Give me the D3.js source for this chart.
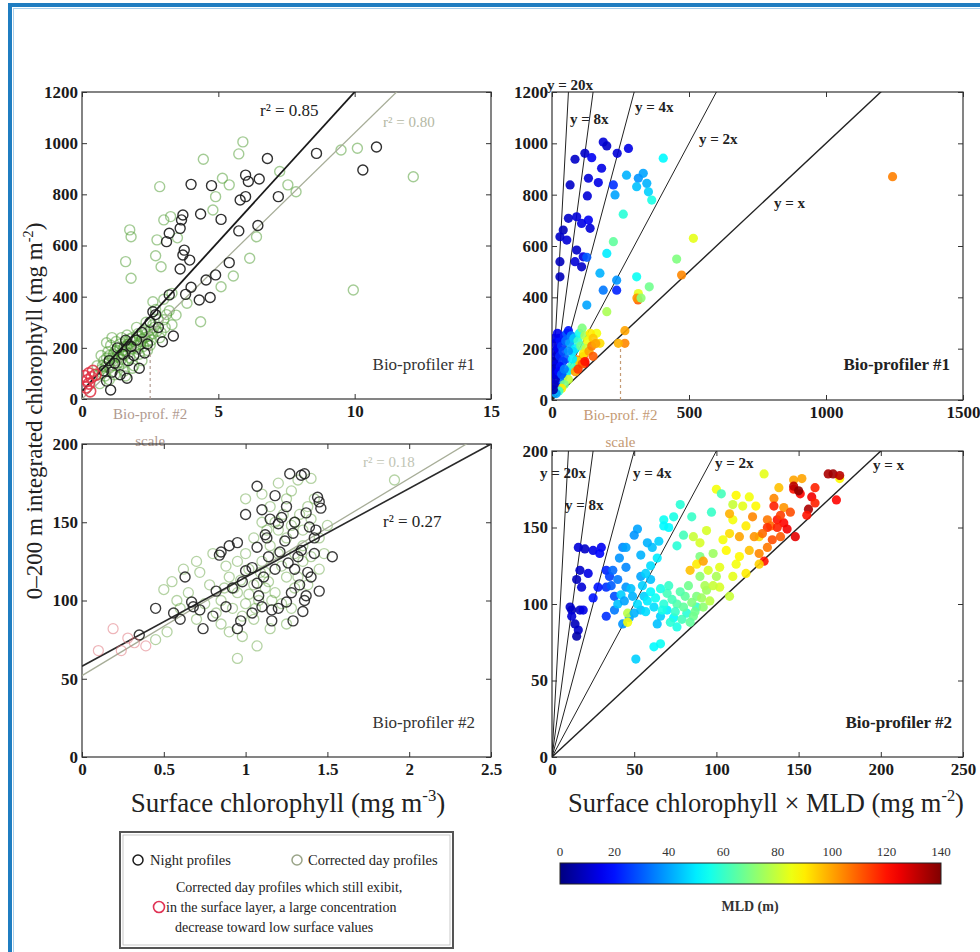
<!DOCTYPE html>
<html>
<head>
<meta charset="utf-8">
<script src="https://cdn.jsdelivr.net/npm/d3@7/dist/d3.min.js"></script>
<style>
  body { margin: 0; background: #fff; }
  svg text { font-family: "Liberation Serif", "DejaVu Serif", serif; }
</style>
</head>
<body>
<svg id="chart" width="980" height="952"></svg>
<script>
// ---- data ----
// Bio-profiler #1 : [surface chl, 0-200 m integrated chl]
var nightTop = [[10.8,985],[10.3,895],[8.6,960],[6.8,940],[6.0,875],[6.1,850],[6.5,860],[5.8,778],[6.0,791],
  [4.0,839],[4.75,834],[3.7,719],[4.35,723],[5.1,702],[3.6,667],[3.2,648],[3.1,615],[3.65,700],[6.45,678],
  [5.75,657],[3.75,582],[3.7,563],[3.95,543],[3.6,508],[5.4,533],[4.9,485],[4.55,465],[4.7,397],[4.3,387],
  [4.0,437],[3.8,409],[3.2,407],[2.6,341],[3.35,246],[2.95,224],[1.65,81],[1.05,35],[7.2,791],[2.5,300],
  [2.7,330],[2.2,260],[2.0,230],[1.8,205],[1.5,175],[1.2,140],[1.0,150],[1.4,95],[2.1,120],[0.9,70],
  [1.3,200],[2.4,215],[1.7,150],[2.8,280],[1.1,105],[2.3,180],[1.6,230],[0.8,110],[1.9,170]];
var dayTop = [[5.9,1005],[5.75,958],[4.45,937],[2.85,830],[5.15,863],[5.4,837],[4.9,791],[4.8,739],[3.25,713],
  [3.0,700],[1.8,634],[1.75,661],[1.6,537],[1.8,472],[2.75,622],[2.9,517],[3.3,413],[4.35,302],[6.15,550],
  [6.4,634],[5.55,481],[5.1,439],[7.25,889],[7.55,837],[7.85,810],[9.5,973],[10.1,980],[12.15,869],[9.95,426],
  [3.85,374],[3.45,328],[3.0,390],[2.6,380],[3.5,630],[2.7,560],
  [0.6,95],[0.75,130],[0.9,160],[1.0,120],[1.15,175],[1.25,150],[1.4,200],[1.5,140],[1.6,185],[1.7,215],
  [1.85,240],[1.95,200],[2.05,255],[2.15,225],[2.3,270],[2.45,245],[2.6,290],[2.75,265],[0.7,170],[0.85,90],
  [1.05,210],[1.2,95],[1.35,125],[1.45,240],[1.55,110],[1.75,160],[1.9,130],[2.1,175],[2.25,205],[2.4,190],
  [2.55,230],[2.8,310],[3.05,280],[3.2,345],[0.95,185],[1.1,240],[1.3,170],[1.65,250],[2.0,280],[2.2,150],
  [0.65,60],[0.8,150],[1.0,75],[1.6,90],[1.85,120],[2.35,300],[2.9,260],[1.25,225],[1.55,205],[0.55,130],
  [0.9,220],[1.45,175],[1.95,230],[2.5,210],[2.7,350],[3.1,330],[2.3,240],
  [0.7,115],[0.95,140],[1.1,160],[1.2,185],[1.35,165],[1.5,190],[1.65,205],[1.8,195],[1.9,225],[2.0,210],
  [2.1,245],[2.2,235],[2.35,255],[2.5,270],[2.65,280],[0.85,125],[1.0,170],[1.3,140],[1.45,155],[1.55,170],
  [1.7,180],[2.05,195],[2.15,215],[2.4,225],[1.15,130],[0.75,100],[1.6,225],[1.75,235],[1.25,190],[1.4,215],
  [2.6,255],[2.85,240],[3.3,290],[3.0,310]];
var redTop = [[0.25,100],[0.3,30],[0.2,73],[0.4,110],[0.25,60],[0.35,85],[0.15,45],[0.5,95],[0.1,90]];

// Bio-profiler #2
var nightBottom = [[1.27,181],[1.34,180],[1.36,181],[1.07,173],[1.18,167],[1.44,166],[1.45,163],[1.46,159],
  [1.25,160],[1.1,158],[1.0,155],[1.37,156],[1.43,145],[1.53,128],[1.42,130],[0.85,131],[0.9,135],[0.95,137],
  [0.84,129],[0.63,115],[0.45,95],[0.35,78],[0.74,82],[0.95,82],[1.16,87],[1.29,87],[1.38,118],[1.36,100],
  [1.25,99],[1.07,134],[1.12,142],[1.2,149],[1.29,143],[1.07,111],[1.1,96],[1.2,95],[0.88,96],[0.82,106],
  [0.72,94],[0.8,90],[0.92,108],[1.0,119],[1.04,121],[1.11,115],[1.14,128],[1.21,131],[1.26,124],[1.32,128],
  [1.4,115],[1.45,106],[1.16,94],[1.04,92],[0.97,87],[0.56,92],[0.68,96],[1.34,132],[1.39,147],[1.22,153],
  [1.3,150],[1.15,152],[1.33,110],[1.28,105],[1.18,120],[1.08,103],[0.98,112],[1.35,93],[1.13,140],[1.24,138],
  [1.3,120],[1.42,140],[0.67,99],[0.6,88],[1.37,103]];
var dayBottom = [[1.91,177],[0.95,63],[1.07,71],[1.32,177],[1.4,178],[1.28,170],[0.5,107],[0.55,112],[0.65,105],
  [0.72,118],[0.78,110],[0.85,100],[0.9,115],[0.95,105],[1.0,98],[1.05,110],[1.1,125],[1.15,135],[1.2,145],
  [1.25,140],[1.3,150],[1.35,145],[1.4,152],[1.1,150],[1.05,140],[1.2,130],[1.25,115],[1.3,108],[1.35,125],
  [1.45,140],[0.88,122],[0.92,95],[0.98,90],[1.02,120],[1.08,100],[1.12,108],[1.18,105],[1.22,98],[1.28,95],
  [0.82,92],[0.75,98],[0.7,88],[0.6,95],[0.52,80],[0.45,75],[0.58,100],[1.15,160],[1.25,165],[1.35,135],
  [1.4,128],[1.45,120],[1.5,148],[1.3,130],[1.0,130],[0.95,125],[1.12,118],[1.22,122],[0.85,85],[0.9,80],
  [0.98,77],[1.05,88],[1.15,82],[1.25,85],[1.38,160],[1.42,165],[1.2,175],[1.0,165],[1.1,168],[0.8,130],
  [0.7,125],[0.62,120],[1.32,115],[1.48,130],[1.38,110],[1.16,100],[0.93,108],[1.06,95],
  [1.13,145],[1.18,150],[1.23,155],[1.28,148],[1.33,155],[1.02,104],[0.97,113],[1.09,118],[1.14,112],[0.87,108]];
var redBottom = [[0.19,82],[0.1,68],[0.24,68],[0.39,71],[0.28,76],[0.32,73]];

// [surface chl x MLD, integrated chl, MLD]
var mldTop = [[187,1005,12],[200,990,10],[279,980,14],[238,961,12],[120,961,10],[145,944,16],[84,938,10],
  [181,903,14],[133,864,12],[66,838,10],[169,847,14],[129,795,12],[60,708,10],[90,714,12],[108,688,14],
  [139,669,12],[133,701,16],[41,662,8],[29,636,10],[54,623,12],[90,584,10],[114,558,14],[84,539,12],
  [29,539,8],[108,519,10],[29,480,8],[127,556,30],[224,838,24],[272,876,42],[333,883,40],[315,864,38],
  [309,831,44],[346,844,42],[352,811,46],[406,942,52],[364,779,56],[230,799,40],[260,724,58],[200,571,50],
  [224,617,66],[175,494,42],[309,480,54],[236,467,38],[187,428,34],[236,428,22],[127,370,40],[516,630,84],
  [455,549,70],[473,487,104],[355,441,68],[315,415,84],[314,390,110],[310,397,102],[325,397,72],[200,344,76],
  [266,221,104],[242,221,98],[266,270,100],[163,260,86],[175,221,92],[114,169,110],[120,143,125],[90,156,104],
  [90,130,88],[66,117,76],[1243,870,105],
  [8,240,10],[12,220,12],[10,190,8],[15,170,10],[6,150,6],[18,140,14],[5,120,5],[10,100,8],[22,200,16],
  [25,240,18],[30,230,20],[20,260,15],[14,120,10],[28,170,22],[35,210,25],[40,190,28],[45,250,22],[55,260,30],
  [50,230,32],[60,270,20],[70,250,35],[65,220,40],[80,240,45],[85,200,50],[75,190,48],[95,230,60],[100,260,55],
  [110,280,70],[120,250,75],[105,210,68],[130,230,85],[140,260,90],[125,200,80],[150,240,95],[115,180,90],
  [135,190,100],[145,210,105],[160,220,100],[90,150,65],[70,130,60],[55,110,50],[40,90,40],[30,70,35],
  [20,50,25],[100,150,95],[110,140,110],[120,150,120],[85,110,100],[95,120,115],[60,80,80],[45,60,70],
  [35,45,90],[25,35,60],[15,25,40],[5,40,5],[8,60,8],[12,80,10],[16,100,12],[50,160,30],[40,150,25],
  [30,130,20],[25,110,18],[35,100,30],[60,190,38],[45,120,35],[75,160,50],[150,170,110]];
var mldBottom = [[16,137,12],[20,136,10],[25,135,14],[30,137,16],[29,133,18],[17,122,10],[22,120,14],[15,116,8],
  [18,111,12],[12,96,8],[17,96,10],[19,96,14],[14,87,8],[16,83,10],[15,79,6],[12,92,12],[11,98,10],
  [33,122,22],[35,118,26],[33,111,24],[28,111,20],[33,92,24],[38,105,28],[25,104,20],
  [52,149,40],[50,145,38],[43,137,36],[45,137,40],[61,137,44],[54,132,42],[37,122,32],[45,124,36],[54,118,40],
  [60,116,44],[45,111,38],[49,105,42],[56,105,46],[38,96,34],[47,91,40],[54,96,44],[62,98,48],[66,92,46],
  [70,96,50],[64,87,44],[74,91,52],[51,64,46],[43,87,38],
  [68,155,54],[68,151,52],[74,157,56],[78,165,58],[85,157,60],[66,74,54],[62,72,52],[76,85,56],[82,94,58],[88,98,60],
  [70,107,62],[76,100,64],[81,105,66],[88,105,70],[92,98,72],[86,92,68],[94,109,74],[100,118,76],[90,118,72],
  [98,133,74],[90,131,70],[46,94,78],[46,88,86],
  [129,185,84],[100,175,86],[112,171,88],[116,164,84],[124,164,88],[110,155,86],[118,151,90],[126,144,92],
  [94,148,82],[86,144,80],[90,140,82],[106,135,88],[112,126,86],[118,120,90],[110,118,84],[102,111,82],
  [108,105,80],[114,131,88],[175,182,88],
  [147,181,100],[135,169,104],[141,163,102],[108,159,98],[122,157,104],[131,155,106],[133,151,108],[123,144,102],
  [114,144,100],[131,137,106],[126,133,104],[139,144,110],
  [147,175,120],[151,172,122],[160,176,118],[135,164,118],[137,155,120],[141,153,122],[143,149,124],[137,150,118],
  [131,150,116],[148,144,126],[129,128,120],[173,168,122],
  [168,185,134],[171,185,136],[175,184,132],[156,162,134],[147,177,132],[150,174,138],
  [40,100,44],[42,106,46],[48,110,44],[52,100,48],[55,112,46],[58,102,50],[60,108,52],[63,104,54],[57,95,48],
  [50,94,42],[44,102,40],[66,110,56],[68,100,58],[71,112,60],[73,103,62],[75,95,60],[78,108,64],[80,98,66],
  [83,112,68],[85,101,70],[87,95,68],[91,104,74],[93,112,76],[96,102,78],[79,90,62],[72,88,58],[67,96,56],
  [84,88,66],[98,112,80],[95,122,82],[88,126,90],[84,122,96],[92,128,100],[102,124,84],[60,125,48],[64,130,50],
  [57,120,46],[40,116,34],[36,112,30],[41,130,38],[58,140,42],[65,141,46],[71,150,52],[80,145,62],[76,138,58],
  [104,142,86],[108,146,92],[97,160,60],[103,172,62],[110,165,80],[120,170,86],[138,176,96],[152,182,100],
  [158,170,124],[120,135,96],[126,126,94],[139,158,114],[145,160,112],[155,158,120],[160,166,118],[134,142,112],
  [128,146,108]];

var slopes = [20, 8, 4, 2, 1];
var mldTicks = [0, 20, 40, 60, 80, 100, 120, 140];

// ---- drawing ----
var svg = d3.select('#chart');

function jet(v) {
  var t = Math.max(0, Math.min(1, v / 140));
  function c(d) { return Math.round(255 * Math.max(0, Math.min(1, 1.5 - Math.abs(4 * t - d)))); }
  return d3.rgb(c(3), c(2), c(1)).toString();
}

// blue page frame
svg.append('rect').attr('x', 10).attr('y', 5).attr('width', 990).attr('height', 970)
  .attr('fill', 'none').attr('stroke', '#1f7dc1').attr('stroke-width', 4);
svg.append('rect').attr('x', 13.5).attr('y', 8.5).attr('width', 990).attr('height', 970)
  .attr('fill', 'none').attr('stroke', '#a9d0ec').attr('stroke-width', 1);

function panel(p) {
  var x = d3.scaleLinear().domain(p.xd).range([p.x0, p.x1]);
  var y = d3.scaleLinear().domain(p.yd).range([p.y1, p.y0]);
  var g = svg.append('g');
  var fmt = function(d) { return String(d); };

  function styleAxis(a, labels) {
    a.select('.domain').remove();
    a.selectAll('line').attr('stroke', '#333');
    a.selectAll('text').attr('font-family', '"Liberation Serif", serif')
      .attr('font-size', 17).attr('font-weight', 'bold').attr('fill', '#1a1a1a')
      .style('display', labels ? null : 'none');
  }
  g.append('g').attr('transform', 'translate(0,' + p.y1 + ')')
    .call(d3.axisBottom(x).tickValues(p.xt).tickSize(-5).tickPadding(6).tickFormat(fmt))
    .call(styleAxis, true);
  g.append('g').attr('transform', 'translate(0,' + p.y0 + ')')
    .call(d3.axisTop(x).tickValues(p.xt).tickSize(-5).tickFormat(fmt))
    .call(styleAxis, false);
  g.append('g').attr('transform', 'translate(' + p.x0 + ',0)')
    .call(d3.axisLeft(y).tickValues(p.yt).tickSize(-5).tickPadding(4).tickFormat(fmt))
    .call(styleAxis, true);
  g.append('g').attr('transform', 'translate(' + p.x1 + ',0)')
    .call(d3.axisRight(y).tickValues(p.yt).tickSize(-5).tickFormat(fmt))
    .call(styleAxis, false);

  g.append('rect').attr('x', p.x0).attr('y', p.y0)
    .attr('width', p.x1 - p.x0).attr('height', p.y1 - p.y0)
    .attr('fill', 'none').attr('stroke', '#333').attr('stroke-width', 1.2);

  svg.append('clipPath').attr('id', 'clip-' + p.name).append('rect')
    .attr('x', p.x0).attr('y', p.y0).attr('width', p.x1 - p.x0).attr('height', p.y1 - p.y0);
  var plot = g.append('g').attr('clip-path', 'url(#clip-' + p.name + ')');
  return { g: g, plot: plot, x: x, y: y, p: p };
}

function regLine(P, a, b, color, w) {
  var xd = P.x.domain();
  P.plot.append('line')
    .attr('x1', P.x(xd[0])).attr('y1', P.y(a + b * xd[0]))
    .attr('x2', P.x(xd[1])).attr('y2', P.y(a + b * xd[1]))
    .attr('stroke', color).attr('stroke-width', w);
}

function circles(P, data, color, w, op, r) {
  P.plot.selectAll(null).data(data).enter().append('circle')
    .attr('cx', function(d) { return P.x(d[0]); })
    .attr('cy', function(d) { return P.y(d[1]); })
    .attr('r', r)
    .attr('fill', 'none').attr('stroke', color)
    .attr('stroke-width', w).attr('stroke-opacity', op);
}

function dots(P, data) {
  P.plot.selectAll(null).data(data).enter().append('circle')
    .attr('cx', function(d) { return P.x(d[0]); })
    .attr('cy', function(d) { return P.y(d[1]); })
    .attr('r', 4.6)
    .attr('fill', function(d) { return jet(d[2]); })
    .attr('fill-opacity', 0.9);
}

function label(P, txt, x, y, opt) {
  opt = opt || {};
  return P.g.append('text').attr('x', x).attr('y', y).text(txt)
    .attr('font-size', opt.size || 17)
    .attr('font-weight', opt.bold ? 'bold' : 'normal')
    .attr('text-anchor', opt.anchor || 'start')
    .attr('fill', opt.color || '#222');
}

function scaleMark(P, xv, yv, color) {
  P.plot.append('line')
    .attr('x1', P.x(xv)).attr('x2', P.x(xv))
    .attr('y1', P.y(0)).attr('y2', P.y(yv))
    .attr('stroke', color).attr('stroke-width', 1.2).attr('stroke-dasharray', '3,3');
  label(P, 'Bio-prof. #2', P.x(xv), P.p.y1 + 20, { size: 15, anchor: 'middle', color: color });
  label(P, 'scale', P.x(xv), P.p.y1 + 47, { size: 15, anchor: 'middle', color: color });
}

// ---- top left ----
var A = panel({ name: 'a', x0: 82, x1: 491, y0: 92, y1: 399, xd: [0, 15], yd: [0, 1200],
  xt: [0, 5, 10, 15], yt: [0, 200, 400, 600, 800, 1000, 1200] });
circles(A, dayTop, '#4a9a2c', 1.4, 0.5, 5);
regLine(A, 0, 104, '#a7ad98', 1.3);
regLine(A, 30, 117, '#1a1a1a', 1.8);
circles(A, nightTop, '#1a1a1a', 1.4, 0.9, 5);
circles(A, redTop, '#e03344', 1.6, 0.85, 5.5);
scaleMark(A, 2.5, 200, '#b09a90');
label(A, 'r² = 0.85', 260, 116);
label(A, 'r² = 0.80', 383, 127, { size: 15, color: '#b4b8a4' });
label(A, 'Bio-profiler #1', 475, 370, { anchor: 'end', color: '#333' });

// ---- top right ----
var B = panel({ name: 'b', x0: 552, x1: 963, y0: 92, y1: 400, xd: [0, 1500], yd: [0, 1200],
  xt: [0, 500, 1000, 1500], yt: [0, 200, 400, 600, 800, 1000, 1200] });
slopes.forEach(function(k) {
  B.plot.append('line').attr('x1', B.x(0)).attr('y1', B.y(0))
    .attr('x2', B.x(1500)).attr('y2', B.y(1500 * k))
    .attr('stroke', '#222').attr('stroke-width', k === 1 ? 1.4 : 1);
});
dots(B, mldTop);
scaleMark(B, 250, 200, '#c49a74');
label(B, 'y = 20x', 570, 90, { size: 15, bold: true, anchor: 'middle' });
label(B, 'y = 8x', 570, 124, { size: 15, bold: true });
label(B, 'y = 4x', 635, 112, { size: 15, bold: true });
label(B, 'y = 2x', 699, 144, { size: 15, bold: true });
label(B, 'y = x', 774, 208, { size: 15, bold: true });
label(B, 'Bio-profiler #1', 950, 370, { anchor: 'end', bold: true });

// ---- bottom left ----
var C = panel({ name: 'c', x0: 82, x1: 491, y0: 444, y1: 757, xd: [0, 2.5], yd: [0, 200],
  xt: [0, 0.5, 1, 1.5, 2, 2.5], yt: [0, 50, 100, 150, 200] });
circles(C, dayBottom, '#5a9e36', 1.3, 0.45, 5);
regLine(C, 52, 63, '#a7ad98', 1.3);
regLine(C, 58, 56.8, '#2a2a2a', 1.6);
circles(C, nightBottom, '#1a1a1a', 1.4, 0.85, 5);
circles(C, redBottom, '#e07880', 1.2, 0.55, 5);
label(C, 'r² = 0.18', 363, 467, { size: 15, color: '#c0c4b4' });
label(C, 'r² = 0.27', 383, 527);
label(C, 'Bio-profiler #2', 475, 728, { anchor: 'end', color: '#333' });

// ---- bottom right ----
var D = panel({ name: 'd', x0: 552, x1: 963, y0: 451, y1: 757, xd: [0, 250], yd: [0, 200],
  xt: [0, 50, 100, 150, 200, 250], yt: [0, 50, 100, 150, 200] });
slopes.forEach(function(k) {
  D.plot.append('line').attr('x1', D.x(0)).attr('y1', D.y(0))
    .attr('x2', D.x(250)).attr('y2', D.y(250 * k))
    .attr('stroke', '#222').attr('stroke-width', k === 1 ? 1.4 : 1);
});
dots(D, mldBottom);
label(D, 'y = 20x', 540, 478, { size: 15, bold: true });
label(D, 'y = 8x', 565, 510, { size: 15, bold: true });
label(D, 'y = 4x', 633, 478, { size: 15, bold: true });
label(D, 'y = 2x', 715, 468, { size: 15, bold: true });
label(D, 'y = x', 873, 470, { size: 15, bold: true });
label(D, 'Bio-profiler #2', 952, 728, { anchor: 'end', bold: true });

// ---- axis titles ----
function supText(x, y, pre, sup, post, size, rot) {
  var t = svg.append('text').attr('font-size', size).attr('fill', '#222')
    .attr('text-anchor', 'middle')
    .attr('transform', 'translate(' + x + ',' + y + ')' + (rot ? ' rotate(' + rot + ')' : ''));
  t.append('tspan').text(pre);
  t.append('tspan').text(sup).attr('dy', -size * 0.4).attr('font-size', size * 0.62);
  t.append('tspan').text(post).attr('dy', size * 0.4);
  return t;
}
supText(288, 812, 'Surface chlorophyll (mg m', '-3', ')', 27);
supText(766, 812, 'Surface chlorophyll \u00d7 MLD (mg m', '-2', ')', 26.5);
supText(42, 411, '0\u2013200 m integrated chlorophyll (mg m', '-2', ')', 23, -90);

// ---- legend ----
var lg = svg.append('g');
lg.append('rect').attr('x', 120).attr('y', 832).attr('width', 333).attr('height', 116)
  .attr('fill', '#fff').attr('stroke', '#555').attr('stroke-width', 2);
lg.append('rect').attr('x', 123).attr('y', 835).attr('width', 327).attr('height', 110)
  .attr('fill', 'none').attr('stroke', '#bbb').attr('stroke-width', 0.8);
var legendItems = [
  { cx: 138, cy: 860, color: '#1a1a1a', op: 1, text: 'Night profiles', tx: 150 },
  { cx: 297, cy: 860, color: '#9aa488', op: 1, text: 'Corrected day profiles', tx: 308 }
];
legendItems.forEach(function(d) {
  lg.append('circle').attr('cx', d.cx).attr('cy', d.cy).attr('r', 5)
    .attr('fill', 'none').attr('stroke', d.color).attr('stroke-width', 1.5);
  lg.append('text').attr('x', d.tx).attr('y', d.cy + 5).text(d.text)
    .attr('font-size', 14.5).attr('fill', '#222');
});
lg.append('circle').attr('cx', 159).attr('cy', 907).attr('r', 5.5)
  .attr('fill', 'none').attr('stroke', '#e03355').attr('stroke-width', 1.6);
[['Corrected day profiles which still exibit,', 176, 892],
 ['in the surface layer, a large concentration', 166, 912],
 ['decrease toward low surface values', 175, 932]].forEach(function(l) {
  lg.append('text').attr('x', l[1]).attr('y', l[2]).text(l[0])
    .attr('font-size', 14).attr('fill', '#222');
});

// ---- colorbar ----
var cb = svg.append('g');
var cbX = d3.scaleLinear().domain([0, 140]).range([560, 941]);
var grad = svg.append('defs').append('linearGradient').attr('id', 'jetgrad');
d3.range(0, 141, 5).forEach(function(v) {
  grad.append('stop').attr('offset', (v / 140 * 100) + '%').attr('stop-color', jet(v));
});
cb.append('rect').attr('x', cbX(0)).attr('y', 863).attr('width', cbX(140) - cbX(0)).attr('height', 21)
  .attr('fill', 'url(#jetgrad)').attr('stroke', '#222').attr('stroke-width', 1);
cb.selectAll(null).data(mldTicks).enter().append('text')
  .attr('x', function(d) { return cbX(d); }).attr('y', 856)
  .attr('text-anchor', 'middle').attr('font-size', 13).attr('fill', '#333')
  .text(function(d) { return d; });
cb.append('text').attr('x', 750).attr('y', 911).attr('text-anchor', 'middle')
  .attr('font-size', 14).attr('font-weight', 'bold').attr('fill', '#333').text('MLD (m)');
</script>
</body>
</html>
